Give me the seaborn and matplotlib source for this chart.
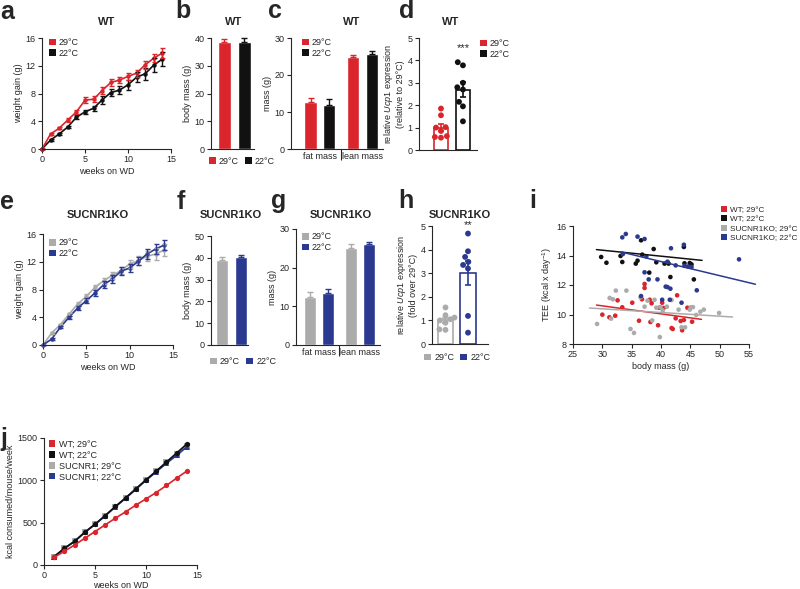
import numpy as np
import pandas as pd
import matplotlib
matplotlib.use("Agg")
import matplotlib.pyplot as plt
from matplotlib.patches import Patch
import seaborn as sns

# ---- data ----
weeks = list(range(15))
a_29 = [0, 2.17, 2.99, 4.19, 5.35, 7.04, 7.18, 8.43, 9.59, 9.93, 10.46, 10.94, 12.14, 13.1, 13.83]
a_29_sem = [0, 0.15, 0.15, 0.25, 0.3, 0.45, 0.45, 0.5, 0.45, 0.45, 0.5, 0.5, 0.55, 0.6, 0.7]
a_22 = [0, 1.3, 2.17, 3.18, 4.58, 5.35, 5.88, 7.08, 8.14, 8.48, 9.25, 10.36, 10.84, 12.1, 12.96]
a_22_sem = [0, 0.1, 0.1, 0.2, 0.25, 0.3, 0.35, 0.6, 0.55, 0.6, 0.75, 0.7, 0.9, 0.95, 0.95]

e_29 = [0, 1.73, 2.93, 4.42, 5.91, 7.02, 8.31, 9.27, 10.04, 10.72, 11.68, 12.16, 12.78, 13.12, 13.7]
e_29_sem = [0, 0.1, 0.15, 0.25, 0.3, 0.35, 0.4, 0.45, 0.5, 0.55, 0.6, 0.65, 0.7, 0.8, 0.8]
e_22 = [0, 0.86, 2.55, 3.99, 5.33, 6.39, 7.5, 8.7, 9.51, 10.62, 11.1, 12.06, 13.12, 13.84, 14.42]
e_22_sem = [0, 0.1, 0.15, 0.25, 0.35, 0.4, 0.4, 0.5, 0.55, 0.6, 0.6, 0.6, 0.7, 0.75, 0.75]

temps = ['29°C', '22°C']
b_mass = [38.5, 38.7]
b_sem = [1.2, 1.4]
f_mass = [39.2, 40.2]
f_sem = [1.2, 1.3]

tissues = ['fat mass', 'lean mass']
c_29 = [12.8, 24.75]
c_29_sem = [1.0, 0.55]
c_22 = [11.9, 25.7]
c_22_sem = [1.5, 0.7]
g_29 = [12.5, 25.2]
g_29_sem = [1.2, 0.8]
g_22 = [13.5, 26.1]
g_22_sem = [1.1, 0.5]

d_29 = [1.85, 1.55, 1.02, 1.0, 0.85, 0.62, 0.55, 0.58]
d_22 = [3.92, 3.78, 3.0, 2.8, 2.7, 2.15, 1.95, 1.28]
h_29 = [1.55, 1.22, 1.12, 1.05, 1.0, 0.9, 0.62, 0.6]
h_22 = [4.68, 3.93, 3.69, 3.48, 3.35, 3.2, 1.19, 0.48]

i_wt29_x = [30.0, 31.2, 32.2, 32.6, 33.4, 35.1, 36.25, 36.76, 37.2, 37.2, 38.07, 38.4, 38.2, 39.5,
            39.7, 40.2, 40.45, 41.8, 42.0, 42.5, 42.75, 43.35, 43.6, 43.9, 44.5, 45.3]
i_wt29_y = [9.99, 9.81, 9.92, 10.96, 10.49, 10.8, 9.58, 11.03, 12.07, 11.8, 11.0, 10.76, 9.49, 9.27,
            10.46, 10.8, 10.44, 9.08, 9.02, 9.74, 11.3, 9.56, 8.93, 9.63, 10.46, 9.51]
i_wt22_x = [29.8, 30.7, 33.1, 33.4, 35.7, 36.0, 36.6, 36.8, 38.0, 38.75, 39.2, 40.6, 41.1, 41.3,
            41.6, 43.9, 44.0, 44.9, 45.2, 45.6]
i_wt22_y = [13.9, 13.51, 13.97, 13.56, 13.45, 13.65, 15.03, 14.06, 12.84, 14.44, 13.54, 13.45, 13.54,
            13.45, 12.54, 14.58, 13.47, 13.49, 13.4, 12.38]
i_ko29_x = [29.1, 31.25, 31.5, 31.8, 32.3, 34.1, 34.8, 35.4, 36.5, 37.2, 37.7, 38.5, 38.9, 39.2, 39.8,
            39.9, 40.3, 41.0, 41.8, 43.0, 43.5, 44.1, 44.9, 45.1, 45.45, 46.0, 46.7, 47.3, 49.9]
i_ko29_y = [9.36, 11.12, 9.72, 11.03, 11.62, 11.62, 9.02, 8.75, 11.16, 10.53, 10.94, 9.6, 11.0, 10.46,
            8.47, 10.5, 10.28, 10.53, 10.98, 10.33, 9.13, 9.13, 10.33, 10.49, 10.5, 9.97, 10.19, 10.33, 10.1]
i_ko22_x = [33.4, 34.0, 36.0, 37.2, 33.5, 37.5, 37.2, 37.9, 39.4, 36.6, 41.7, 43.9, 41.1, 42.5, 44.0,
            44.6, 45.2, 40.8, 41.1, 41.6, 40.2, 41.5, 43.5, 46.1, 53.3]
i_ko22_y = [15.23, 15.46, 15.28, 15.12, 14.1, 13.94, 12.86, 12.38, 12.38, 11.25, 14.49, 14.73, 13.58,
            13.33, 13.3, 13.25, 13.22, 11.89, 11.86, 11.75, 11.0, 11.0, 10.8, 11.64, 13.74]
# fitted regression lines (end points)
fit_wt29 = ([29.0, 46.9], [10.64, 9.67])
fit_wt22 = ([29.0, 47.0], [14.4, 13.67])
fit_ko29 = ([27.8, 52.2], [10.44, 9.83])
fit_ko22 = ([33.2, 56.1], [14.24, 12.05])

j_weeks = list(range(1, 15))
j_wt29 = [91, 162, 237, 316, 395, 474, 553, 628, 707, 781, 856, 939, 1026, 1109]
j_wt22 = [99, 197, 280, 387, 481, 584, 691, 793, 900, 1006, 1109, 1216, 1322, 1429]
j_ko29 = [100, 195, 282, 385, 482, 582, 690, 790, 895, 1003, 1108, 1212, 1315, 1410]
j_ko22 = [100, 195, 280, 385, 480, 580, 688, 788, 893, 1000, 1100, 1200, 1295, 1395]

RED, BLACK, GRAY, BLUE = '#d9252b', '#111111', '#ababab', '#2b3990'

# ---- style ----
sns.set_theme(style="ticks")
plt.rcParams['font.family'] = ['Liberation Sans', 'DejaVu Sans']
plt.rcParams.update({
    'mathtext.fontset': 'custom',
    'mathtext.rm': 'Liberation Sans',
    'mathtext.it': 'Liberation Sans:italic',
    'axes.linewidth': 0.8,
    'axes.labelsize': 6.5,
    'axes.labelpad': 2,
    'xtick.labelsize': 6.5,
    'ytick.labelsize': 6.5,
    'xtick.major.size': 3,
    'ytick.major.size': 3,
    'xtick.major.width': 0.8,
    'ytick.major.width': 0.8,
    'xtick.major.pad': 1.5,
    'ytick.major.pad': 1.5,
})

W, H = 800, 589
fig = plt.figure(figsize=(8, 5.89), dpi=100)


def box(l, t, r, b):
    return fig.add_axes([l / W, 1 - b / H, (r - l) / W, (b - t) / H])


def sq_legend(ax, labels, colors, anchor, ncol=1, fs=6.5):
    handles = [Patch(facecolor=c, edgecolor='none') for c in colors]
    ax.legend(handles, labels, loc='upper left', bbox_to_anchor=anchor, ncol=ncol, frameon=False,
              fontsize=fs, handlelength=0.75, handleheight=0.75, handletextpad=0.35,
              labelspacing=0.2, columnspacing=0.7, borderpad=0, borderaxespad=0)


def letter(x, y, s):
    fig.text(x / W, 1 - y / H, s, fontsize=18, fontweight='bold', ha='left', va='baseline')


def title(x, y, s):
    fig.text(x / W, 1 - y / H, s, fontsize=8, fontweight='bold', ha='center', va='center')


def growth(ax, y29, s29, y22, s22, c29, c22, order):
    df = pd.DataFrame({'week': weeks * 2, 'gain': y29 + y22,
                       'temp': ['29°C'] * 15 + ['22°C'] * 15})
    sns.lineplot(data=df, x='week', y='gain', hue='temp', hue_order=order,
                 palette={'29°C': c29, '22°C': c22}, marker='o', markersize=3.2,
                 markeredgewidth=0, linewidth=1.2, legend=False, ax=ax)
    for t in order:
        yy, ss, cc = (y29, s29, c29) if t == '29°C' else (y22, s22, c22)
        ax.errorbar(weeks, yy, yerr=ss, fmt='none', ecolor=cc, elinewidth=1, capsize=1.8,
                    capthick=1, clip_on=False)
    for l in ax.lines:
        l.set_clip_on(False)
    ax.set_xlim(0, 15)
    ax.set_ylim(0, 16)
    ax.set_xticks([0, 5, 10, 15])
    ax.set_yticks([0, 4, 8, 12, 16])
    ax.set_xlabel('weeks on WD')
    ax.set_ylabel('weight gain (g)')
    sns.despine(ax=ax)


def body(ax, vals, sems, cols, xlim, ylim, yticks):
    df = pd.DataFrame({'temp': temps, 'mass': vals})
    sns.barplot(data=df, x='temp', y='mass', hue='temp', palette=dict(zip(temps, cols)),
                width=0.65, errorbar=None, legend=False, ax=ax, saturation=1)
    for k, (v, s, c) in enumerate(zip(vals, sems, cols)):
        ax.errorbar([k], [v], yerr=[[0], [s]], fmt='none', ecolor=c, elinewidth=1,
                    capsize=2.5, capthick=1, clip_on=False)
    ax.set_xlim(*xlim)
    ax.set_ylim(*ylim)
    ax.set_yticks(yticks)
    ax.set_xticks([])
    ax.set_xlabel('')
    ax.set_ylabel('body mass (g)')
    sns.despine(ax=ax)


def comp(ax, v29, s29, v22, s22, cols, xlim):
    df = pd.DataFrame({'tissue': tissues * 2, 'mass': v29 + v22, 'temp': ['29°C'] * 2 + ['22°C'] * 2})
    sns.barplot(data=df, x='tissue', y='mass', hue='temp', hue_order=temps,
                palette=dict(zip(temps, cols)), width=0.87, gap=0.33, errorbar=None,
                legend=False, ax=ax, saturation=1)
    for cont, vals, sems, c in zip(ax.containers, [v29, v22], [s29, s22], cols):
        xs = [p.get_x() + p.get_width() / 2 for p in cont.patches]
        ax.errorbar(xs, vals, yerr=[[0] * 2, sems], fmt='none', ecolor=c, elinewidth=1,
                    capsize=2.5, capthick=1, clip_on=False)
    ax.set_xlim(*xlim)
    ax.set_ylim(0, 30)
    ax.set_yticks([0, 10, 20, 30])
    ax.set_xticks([0, 1])
    ax.set_xticklabels(tissues)
    ax.set_xticks([0.5], minor=True)
    ax.tick_params(axis='x', which='major', length=0, pad=2)
    ax.tick_params(axis='x', which='minor', length=8, width=0.8)
    ax.set_xlabel('')
    ax.set_ylabel('mass (g)')
    sns.despine(ax=ax)


def ucp(ax, v29, v22, cols, xlim, ylabel, star, star_y):
    df = pd.DataFrame({'temp': ['29°C'] * len(v29) + ['22°C'] * len(v22), 'ucp1': v29 + v22})
    pal = dict(zip(temps, cols))
    sns.barplot(data=df, x='temp', y='ucp1', hue='temp', palette=pal, fill=False,
                width=xlim[2], errorbar=None, legend=False, ax=ax, linewidth=1.2)
    stats = df.groupby('temp', sort=False)['ucp1'].agg(['mean', 'sem'])
    for k, t in enumerate(temps):
        ax.errorbar([k], [stats.loc[t, 'mean']], yerr=[stats.loc[t, 'sem']], fmt='none',
                    ecolor=pal[t], elinewidth=1.2, capsize=2.5, capthick=1.2)
    sns.swarmplot(data=df, x='temp', y='ucp1', hue='temp', palette=pal, size=4.2,
                  legend=False, ax=ax, linewidth=0)
    ax.text(1, star_y, star, ha='center', va='center', fontsize=8, clip_on=False)
    ax.set_xlim(xlim[0], xlim[1])
    ax.set_ylim(0, 5)
    ax.set_yticks([0, 1, 2, 3, 4, 5])
    ax.set_xticks([])
    ax.set_xlabel('')
    ax.set_ylabel(ylabel)
    sns.despine(ax=ax)


# ---- a ----
ax = box(42, 38, 171, 149)
growth(ax, a_29, a_29_sem, a_22, a_22_sem, RED, BLACK, ['22°C', '29°C'])
sq_legend(ax, temps, [RED, BLACK], (0.054, 1.0))

# ---- b ----
ax = box(211, 38, 254, 149)
body(ax, b_mass, b_sem, [RED, BLACK], (-0.68, 1.5), (0, 40), [0, 10, 20, 30, 40])
sq_legend(ax, temps, [RED, BLACK], (-0.05, -0.07), ncol=2)

# ---- c ----
ax = box(291, 38, 383, 149)
comp(ax, c_29, c_29_sem, c_22, c_22_sem, [RED, BLACK], (-0.68, 1.48))
sq_legend(ax, temps, [RED, BLACK], (0.12, 1.0))

# ---- d ----
ax = box(419, 38, 477, 150)
ucp(ax, d_29, d_22, [RED, BLACK], (-1.0, 1.64, 0.64),
    'relative $\\mathit{Ucp1}$ expression\n(relative to 29°C)', '***', 4.55)
sq_legend(ax, temps, [RED, BLACK], (1.05, 0.99))

# ---- e ----
ax = box(43, 234, 173, 345)
growth(ax, e_29, e_29_sem, e_22, e_22_sem, GRAY, BLUE, ['29°C', '22°C'])
sq_legend(ax, temps, [GRAY, BLUE], (0.046, 0.96))

# ---- f ----
ax = box(211, 236, 248, 345)
body(ax, f_mass, f_sem, [GRAY, BLUE], (-0.6, 1.4), (0, 50), [0, 10, 20, 30, 40, 50])
sq_legend(ax, temps, [GRAY, BLUE], (-0.03, -0.11), ncol=2)

# ---- g ----
ax = box(296, 229, 380, 345)
comp(ax, g_29, g_29_sem, g_22, g_22_sem, [GRAY, BLUE], (-0.56, 1.49))
sq_legend(ax, temps, [GRAY, BLUE], (0.07, 0.97))

# ---- h ----
ax = box(432, 226, 488, 344)
ucp(ax, h_29, h_22, [GRAY, BLUE], (-0.6, 1.89, 0.69),
    'relative $\\mathit{Ucp1}$ expression\n(fold over 29°C)', '**', 5.05)
sq_legend(ax, temps, [GRAY, BLUE], (-0.14, -0.076), ncol=2)

# ---- i ----
ax = box(573, 226, 749, 344)
groups = ['WT; 29°C', 'WT; 22°C', 'SUCNR1KO; 29°C', 'SUCNR1KO; 22°C']
gcols = [RED, BLACK, GRAY, BLUE]
df_i = pd.DataFrame({
    'mass': i_wt29_x + i_wt22_x + i_ko29_x + i_ko22_x,
    'tee': i_wt29_y + i_wt22_y + i_ko29_y + i_ko22_y,
    'group': [groups[0]] * len(i_wt29_x) + [groups[1]] * len(i_wt22_x)
             + [groups[2]] * len(i_ko29_x) + [groups[3]] * len(i_ko22_x),
})
sns.scatterplot(data=df_i, x='mass', y='tee', hue='group', palette=dict(zip(groups, gcols)),
                s=11, linewidth=0, legend=False, ax=ax)
fits = [fit_wt29, fit_wt22, fit_ko29, fit_ko22]
df_fit = pd.DataFrame({'mass': sum([f[0] for f in fits], []), 'tee': sum([f[1] for f in fits], []),
                       'group': sum([[g] * 2 for g in groups], [])})
sns.lineplot(data=df_fit, x='mass', y='tee', hue='group', palette=dict(zip(groups, gcols)),
             linewidth=1.1, legend=False, ax=ax)
for l in ax.lines:
    l.set_clip_on(False)
ax.set_xlim(25, 55)
ax.set_ylim(8, 16)
ax.set_xticks([25, 30, 35, 40, 45, 50, 55])
ax.set_yticks([8, 10, 12, 14, 16])
ax.set_xlabel('body mass (g)')
ax.set_ylabel('TEE (kcal x day$^{-1}$)')
sns.despine(ax=ax)
sq_legend(ax, groups, gcols, (0.84, 1.17), fs=5.9)

# ---- j ----
ax = box(44, 438, 197, 565)
jgroups = ['WT; 29°C', 'WT; 22°C', 'SUCNR1; 29°C', 'SUCNR1; 22°C']
df_j = pd.DataFrame({
    'week': j_weeks * 4,
    'kcal': j_wt29 + j_wt22 + j_ko29 + j_ko22,
    'group': sum([[g] * 14 for g in jgroups], []),
})
order_j = [jgroups[2], jgroups[3], jgroups[1], jgroups[0]]
marks = {jgroups[0]: 'o', jgroups[1]: 'o', jgroups[2]: 's', jgroups[3]: '^'}
sns.lineplot(data=df_j, x='week', y='kcal', hue='group', hue_order=order_j,
             style='group', markers=marks, dashes=False,
             palette=dict(zip(jgroups, gcols)), markersize=3.8, markeredgewidth=0,
             linewidth=1.2, legend=False, ax=ax)
ax.set_xlim(0, 15)
ax.set_ylim(0, 1500)
ax.set_xticks([0, 5, 10, 15])
ax.set_yticks([0, 500, 1000, 1500])
ax.set_xlabel('weeks on WD', labelpad=0.5)
ax.set_ylabel('kcal consumed/mouse/week')
sns.despine(ax=ax)
sq_legend(ax, jgroups, gcols, (0.03, 0.985))

# ---- letters and titles ----
for x, y, s in [(0, 19, 'a'), (175, 18, 'b'), (268, 18, 'c'), (399, 18, 'd'),
                (0, 209, 'e'), (177, 209, 'f'), (271, 208, 'g'), (398, 208, 'h'),
                (529, 208, 'i'), (0, 446, 'j')]:
    letter(x, y, s)
for x, y, s in [(107, 22, 'WT'), (234, 22, 'WT'), (352, 22, 'WT'), (451, 22, 'WT'),
                (98, 215, 'SUCNR1KO'), (231, 215, 'SUCNR1KO'), (341, 215, 'SUCNR1KO'),
                (460, 215, 'SUCNR1KO')]:
    title(x, y, s)

fig.savefig('out.png', dpi=100)
